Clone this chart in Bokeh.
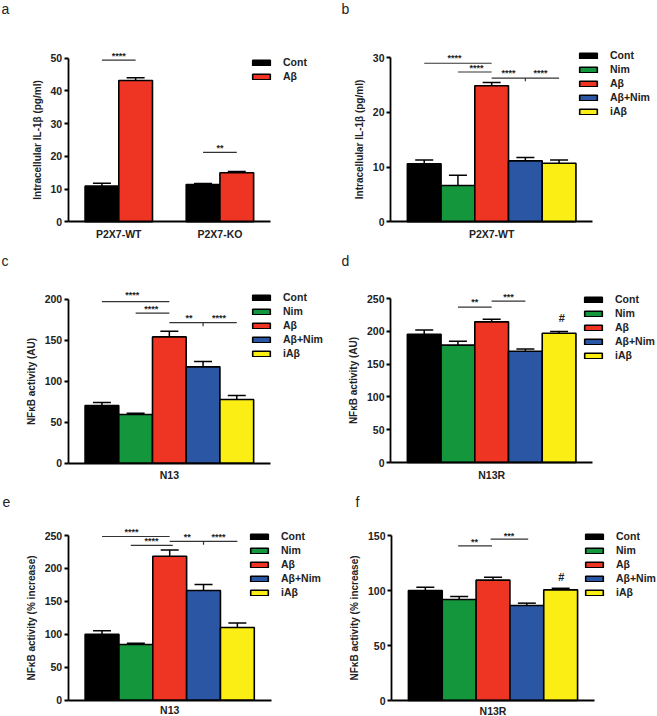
from bokeh.embed import file_html
from bokeh.resources import INLINE
from bokeh.layouts import column, row
from bokeh.models import ColumnDataSource, Whisker, TeeHead, Legend, LegendItem, Label, FixedTicker, Range1d
from bokeh.plotting import figure
from bokeh.core.properties import value

FONT = "Liberation Sans"
BLACK, GREEN, RED, BLUE, YELLOW = "#000000", "#14963C", "#EE3524", "#2A56A4", "#FBEE15"

a_x = [1, 2, 4, 5]
a_vals = [10.9, 43.2, 11.4, 15.0]
a_err = [11.8, 44.0, 11.7, 15.4]
b_vals = [10.6, 6.65, 24.9, 11.15, 10.7]
b_err = [11.3, 8.5, 25.5, 11.75, 11.3]
c_vals = [70.3, 59.3, 154, 117.5, 77.6]
c_err = [74, 61, 161, 124, 82.5]
d_vals = [195.6, 179, 214.4, 169.7, 197]
d_err = [202, 185, 218.5, 173, 199.7]
e_vals = [100, 84.5, 218.6, 166.5, 110.3]
e_err = [105.3, 86.5, 228, 175.6, 117]
f_vals = [100, 91.8, 109.4, 86.4, 100.6]
f_err = [103, 94.5, 112, 88.5, 102]

x5 = [1, 2, 3, 4, 5]
labels2 = ["Cont", "Aβ"]
labels5 = ["Cont", "Nim", "Aβ", "Aβ+Nim", "iAβ"]
colors2 = [BLACK, RED, BLACK, RED]
colors5 = [BLACK, GREEN, RED, BLUE, YELLOW]

a_lines = [(1, 2, 49.4, 49.4), (4, 5, 21.2, 21.2)]
a_stars = [(1.5, 50.8, "****"), (4.5, 22.6, "**")]
b_lines = [(1, 3, 29, 29), (2, 3, 27.4, 27.4), (3, 5, 26.3, 26.3), (4, 4, 26.3, 25.7)]
b_stars = [(1.9, 29.9, "****"), (2.55, 28.1, "****"), (3.5, 27.2, "****"), (4.45, 27.2, "****")]
c_lines = [(1, 3, 197, 197), (2, 3, 183, 183), (3, 5, 171.5, 171.5), (4, 4, 171.5, 167)]
c_stars = [(1.9, 205, "****"), (2.46, 188, "****"), (3.58, 177, "**"), (4.47, 177, "****")]
d_lines = [(2, 3, 237, 237), (3, 4, 246, 246)]
d_stars = [(2.5, 244, "**"), (3.5, 252, "***"), (5.08, 220, "#")]
e_lines = [(1, 3, 248.5, 248.5), (1.85, 3.09, 235, 235), (3, 5, 241, 241), (4, 4, 241, 236)]
e_stars = [(1.87, 255, "****"), (2.46, 241, "****"), (3.52, 247.5, "**"), (4.44, 247.5, "****")]
f_lines = [(1.97, 2.97, 140.6, 140.6), (2.93, 4.04, 146.7, 146.7)]
f_stars = [(2.45, 144, "**"), (3.47, 150, "***"), (5.02, 112.7, "#")]


def panel(letter, letter_xy, x, vals, errs, colors, legend_labels, lines, stars, ymax, yticks, ylabel,
          xticks, xlabels, size, frame_box, legend_xy, label_standoff):
    w, h = size
    ax_left, ax_right, ax_top, ax_bottom = frame_box
    u = (ax_right - ax_left) / 6
    k = ymax / (ax_bottom - ax_top)
    p = figure(width=w, height=h, output_backend="svg", toolbar_location=None,
               x_range=Range1d(-ax_left / u, (w - ax_left) / u),
               y_range=Range1d(-(h - ax_bottom) * k, ax_bottom * k),
               min_border=0)
    p.background_fill_color = None
    p.border_fill_color = None
    p.outline_line_color = None
    p.grid.visible = False

    src = ColumnDataSource(dict(x=x, y=vals, top=errs, color=colors))
    p.add_layout(Whisker(source=src, base="x", lower="y", upper="top", lower_head=None,
                         upper_head=TeeHead(size=18, line_color="#000000", line_width=1.5),
                         line_color="#000000", line_width=1.5, level="underlay"))
    r = p.vbar(x="x", top="y", width=1, bottom=0, source=src, fill_color="color",
               line_color="#000000", line_width=1.6)

    p.segment([l[0] for l in lines], [l[2] for l in lines], [l[1] for l in lines], [l[3] for l in lines],
              line_color="#333333", line_width=1.2)
    star_src = ColumnDataSource(dict(x=[s[0] for s in stars], y=[s[1] for s in stars], t=[s[2] for s in stars],
                                     fs=["11px" if s[2] == "#" else "9px" for s in stars]))
    p.text("x", "y", text="t", source=star_src, text_font=value(FONT), text_font_size="fs",
           text_font_style="bold", text_align="center", text_baseline="middle", text_color="#222222")

    yax = p.yaxis[0]
    yax.fixed_location = 0
    yax.bounds = (0, ymax)
    yax.ticker = FixedTicker(ticks=yticks)
    yax.axis_label = ylabel
    yax.axis_label_text_font = FONT
    yax.axis_label_text_font_size = "10px"
    yax.axis_label_text_font_style = "bold"
    yax.axis_label_text_color = "#222222"
    yax.axis_label_standoff = 5
    yax.major_label_text_font = FONT
    yax.major_label_text_font_size = "10.5px"
    yax.major_label_text_font_style = "bold"
    yax.major_label_text_color = "#222222"
    yax.major_label_standoff = 2
    yax.axis_line_width = 1.8
    yax.major_tick_line_width = 1.8
    yax.major_tick_out = 4
    yax.major_tick_in = 0
    yax.minor_tick_line_color = None

    xax = p.xaxis[0]
    xax.fixed_location = 0
    xax.bounds = (0, 6)
    xax.ticker = FixedTicker(ticks=xticks)
    xax.major_label_overrides = dict(zip(xticks, xlabels))
    xax.major_label_text_font = FONT
    xax.major_label_text_font_size = "10.5px"
    xax.major_label_text_font_style = "bold"
    xax.major_label_text_color = "#222222"
    xax.major_label_standoff = label_standoff
    xax.axis_line_width = 1.8
    xax.major_tick_out = 0
    xax.major_tick_in = 0
    xax.major_tick_line_color = None
    xax.minor_tick_line_color = None

    items = [LegendItem(label=t, renderers=[r], index=i) for i, t in enumerate(legend_labels)]
    leg = Legend(items=items, location=legend_xy, orientation="vertical", background_fill_alpha=0,
                 border_line_color=None, padding=0, margin=0, spacing=2,
                 glyph_width=22, glyph_height=7, label_standoff=11, label_height=10,
                 label_text_font=FONT, label_text_font_size="10.5px", label_text_font_style="bold",
                 label_text_color="#222222", label_text_baseline="middle")
    p.add_layout(leg)

    p.add_layout(Label(x=letter_xy[0], y=letter_xy[1], x_units="screen", y_units="screen", text=letter,
                       text_font=FONT, text_font_size="14px", text_color="#222222",
                       text_baseline="middle", text_align="left"))
    return p


L, R = 330, 327
IL = "Intracellular IL-1β (pg/ml)"
NF_AU = "NFκB activity (AU)"
NF_PC = "NFκB activity (% increase)"

pa = panel("a", (1, 232), a_x, a_vals, a_err, colors2, labels2, a_lines, a_stars, 50, [0, 10, 20, 30, 40, 50], IL,
           [1.5, 4.5], ["P2X7-WT", "P2X7-KO"], (L, 240), (67.7, 270, 57.7, 221.3), (250, 158), 6)
pb = panel("b", (11, 232), x5, b_vals, b_err, colors5, labels5, b_lines, b_stars, 30, [0, 10, 20, 30], IL,
           [3], ["P2X7-WT"], (R, 240), (60, 262.3, 57.3, 221.3), (247, 123), 6)
pc = panel("c", (1, 220), x5, c_vals, c_err, colors5, labels5, c_lines, c_stars, 200, [0, 50, 100, 150, 200], NF_AU,
           [3], ["N13"], (L, 240), (67.7, 270, 58.7, 222.7), (250, 121), 6)
pd = panel("d", (11, 220), x5, d_vals, d_err, colors5, labels5, d_lines, d_stars, 250, [0, 50, 100, 150, 200, 250], NF_AU,
           [3], ["N13R"], (R, 240), (60, 262.3, 58, 222), (252, 119), 6)
pe = panel("e", (2, 215), x5, e_vals, e_err, colors5, labels5, e_lines, e_stars, 250, [0, 50, 100, 150, 200, 250], NF_PC,
           [3], ["N13"], (L, 236), (67.7, 270.7, 55, 219.7), (248, 118), 4)
pf = panel("f", (25, 215), x5, f_vals, f_err, colors5, labels5, f_lines, f_stars, 150, [0, 50, 100, 150], NF_PC,
           [3], ["N13R"], (R, 236), (61, 264, 55, 220), (253, 118), 4)

layout = column(row(pa, pb, spacing=0), row(pc, pd, spacing=0), row(pe, pf, spacing=0), spacing=0)
open("out.html", "w").write(file_html(layout, INLINE))
